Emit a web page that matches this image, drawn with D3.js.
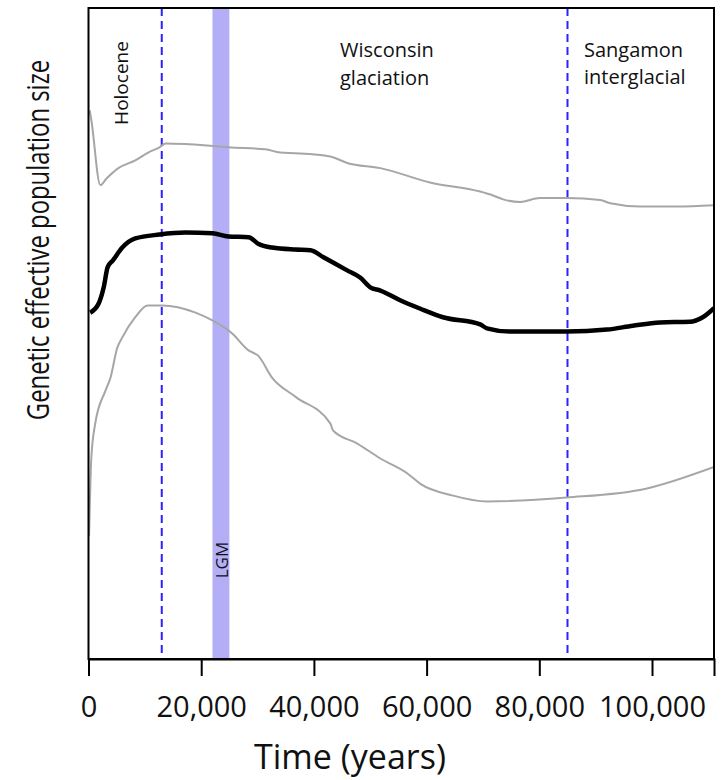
<!DOCTYPE html>
<html>
<head>
<meta charset="utf-8">
<script src="https://cdn.jsdelivr.net/npm/d3@7"></script>
<style>
  body { margin: 0; background: #fff; }
  text { font-family: "Open Sans", sans-serif; fill: #111; }
</style>
</head>
<body>
<div id="chart"></div>
<script>
// upper 95% bound (years before present, relative Ne)
var upperYears = [200, 500, 2100, 3200, 5300, 8300, 10600, 12600, 13700, 17200, 22000, 24800, 31400, 34000, 36700, 42900, 45900, 51800, 60600, 69500, 71800, 73600, 76600, 80100, 84900, 90800, 92600, 97900, 104400, 111000];
var upperNe    = [84.3, 82.8, 72.8, 73.8, 75.4, 76.6, 77.8, 78.6, 79.2, 79.1, 78.8, 78.6, 78.3, 77.8, 77.7, 77.2, 76.2, 75.4, 73.2, 71.8, 71.2, 70.6, 70.2, 70.8, 70.8, 70.5, 70.0, 69.5, 69.5, 69.7];

// median
var medianYears = [300, 1800, 2700, 3400, 4300, 6000, 8300, 12600, 17200, 22000, 24800, 28400, 30100, 32600, 36700, 39400, 41700, 45900, 48200, 50000, 51800, 55300, 58900, 62900, 69500, 70700, 74800, 84900, 92000, 96600, 101400, 106700, 109000, 111000];
var medianNe    = [53.2, 54.6, 57.1, 60.2, 61.2, 63.2, 64.6, 65.2, 65.5, 65.4, 64.9, 64.8, 63.8, 63.2, 62.9, 62.8, 61.7, 59.7, 58.6, 57.1, 56.6, 55.1, 53.8, 52.5, 51.4, 50.8, 50.3, 50.3, 50.6, 51.2, 51.7, 51.8, 52.5, 53.9];

// lower 95% bound
var lowerYears = [100, 500, 1200, 3000, 3900, 5100, 6000, 8300, 10500, 13100, 19000, 22000, 25500, 28400, 30100, 32600, 36700, 42900, 43400, 47700, 51800, 56600, 58900, 64700, 70700, 84900, 99100, 111000];
var lowerNe    = [18.9, 30.9, 36.2, 41.2, 43.2, 47.8, 49.4, 52.5, 54.3, 54.3, 53.2, 52.0, 50.0, 47.4, 46.6, 43.2, 40.3, 36.2, 35.1, 33.1, 30.8, 28.5, 26.9, 25.1, 24.2, 24.8, 26.2, 29.5];

var xTicks = [0, 20000, 40000, 60000, 80000, 100000];
var boundaries = [13000, 85000];   // Holocene / Wisconsin / Sangamon
var lgm = [22000, 25000];

var width = 726, height = 780;
var margin = {top: 8, right: 12, bottom: 121, left: 88.5};

var svg = d3.select("#chart").append("svg")
    .attr("width", width)
    .attr("height", height);

var x = d3.scaleLinear()
    .domain([0, 111000])
    .range([margin.left, width - margin.right]);
var y = d3.scaleLinear()
    .domain([0, 100])
    .range([height - margin.bottom, margin.top]);

svg.append("clipPath").attr("id", "plot")
  .append("rect")
    .attr("x", x(0)).attr("y", y(100))
    .attr("width", x(111000) - x(0)).attr("height", y(0) - y(100));

// LGM band
svg.append("rect")
    .attr("x", x(lgm[0]))
    .attr("y", y(100))
    .attr("width", x(lgm[1]) - x(lgm[0]))
    .attr("height", y(0) - y(100))
    .attr("fill", "#b3aef6");

// period boundaries
svg.selectAll(".bound")
    .data(boundaries)
  .enter().append("line")
    .attr("class", "bound")
    .attr("x1", d => x(d)).attr("x2", d => x(d))
    .attr("y1", y(100)).attr("y2", y(0))
    .attr("stroke", "#2b22ff")
    .attr("stroke-width", 2)
    .attr("stroke-dasharray", "8,5");

var line = d3.line()
    .x(d => x(d[0]))
    .y(d => y(d[1]))
    .curve(d3.curveMonotoneX);

var g = svg.append("g").attr("clip-path", "url(#plot)");
g.append("path")
    .datum(d3.zip(upperYears, upperNe))
    .attr("d", line)
    .attr("fill", "none").attr("stroke", "#a6a6a6").attr("stroke-width", 2);
g.append("path")
    .datum(d3.zip(lowerYears, lowerNe))
    .attr("d", line)
    .attr("fill", "none").attr("stroke", "#a6a6a6").attr("stroke-width", 2);
g.append("path")
    .datum(d3.zip(medianYears, medianNe))
    .attr("d", line)
    .attr("fill", "none").attr("stroke", "#000").attr("stroke-width", 4.5)
    .attr("stroke-linejoin", "round");

// frame
svg.append("rect")
    .attr("x", x(0)).attr("y", y(100))
    .attr("width", x(111000) - x(0)).attr("height", y(0) - y(100))
    .attr("fill", "none").attr("stroke", "#000").attr("stroke-width", 2);

// x axis
var xAxis = svg.append("g")
    .attr("transform", "translate(0," + y(0) + ")")
    .call(d3.axisBottom(x).tickValues(xTicks).tickFormat(d3.format(",")).tickSize(17));
xAxis.select(".domain").attr("stroke-width", 2);
xAxis.selectAll(".tick line").attr("stroke-width", 2);
xAxis.selectAll(".tick text")
    .attr("dy", null)
    .attr("y", 58)
    .style("font-family", "'Open Sans', sans-serif")
    .style("font-size", "29px")
    .attr("fill", "#111");

// axis titles
svg.append("text")
    .attr("x", 350).attr("y", 769)
    .attr("text-anchor", "middle")
    .style("font-size", "34px")
    .text("Time (years)");

// narrow font look: squeeze along the text direction
svg.append("text")
    .attr("transform", "translate(49,240) rotate(-90) scale(0.77,1)")
    .attr("text-anchor", "middle")
    .style("font-size", "31px")
    .text("Genetic effective population size");

// period labels
svg.append("text")
    .attr("transform", "translate(128,83) rotate(-90)")
    .attr("text-anchor", "middle")
    .style("font-size", "19px")
    .text("Holocene");

svg.append("text")
    .attr("transform", "translate(228,560) rotate(-90)")
    .attr("text-anchor", "middle")
    .style("font-size", "17px")
    .text("LGM");

var wis = svg.append("text").style("font-size", "20px");
wis.append("tspan").attr("x", 340).attr("y", 57).text("Wisconsin");
wis.append("tspan").attr("x", 340).attr("y", 85).text("glaciation");

var san = svg.append("text").style("font-size", "20px");
san.append("tspan").attr("x", 584).attr("y", 57).text("Sangamon");
san.append("tspan").attr("x", 584).attr("y", 84).text("interglacial");
</script>
</body>
</html>
